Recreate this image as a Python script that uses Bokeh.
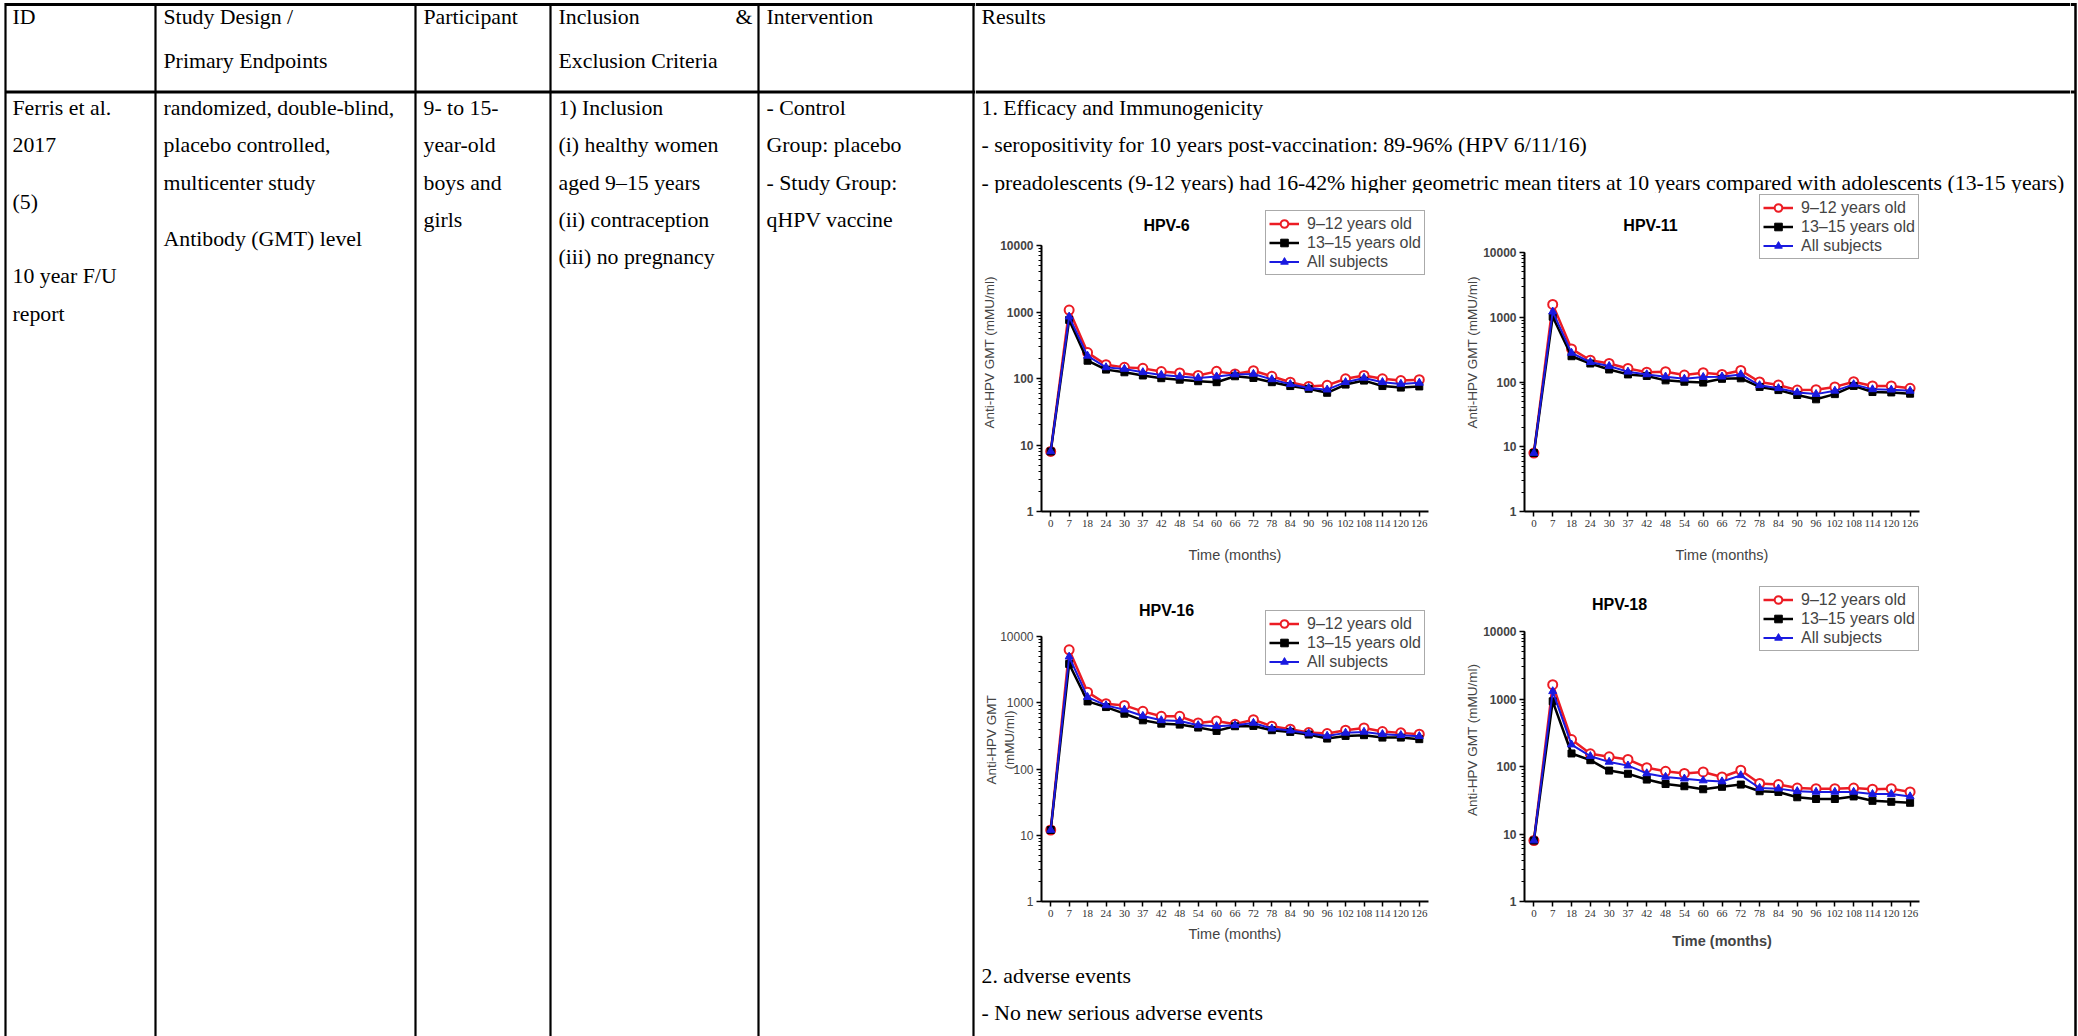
from bokeh.plotting import figure
from bokeh.layouts import row, column
from bokeh.models import Range1d, FactorRange, Legend, LegendItem, PrintfTickFormatter, Label
from bokeh.core.properties import value
from bokeh.embed import file_html
from bokeh.resources import INLINE

# ---------------- data ----------------
MONTHS = ["0", "7", "18", "24", "30", "37", "42", "48", "54", "60", "66",
          "72", "78", "84", "90", "96", "102", "108", "114", "120", "126"]
SERIES_LABELS = ["9\u201312 years old", "13\u201315 years old", "All subjects"]

HPV6_9_12 = [8, 1070, 245, 161, 147, 142, 127, 121, 111, 128, 117, 131, 108, 88, 76, 79, 99, 111, 99, 93, 96]
HPV6_13_15 = [8, 760, 185, 136, 124, 111, 101, 96, 91, 88, 108, 102, 88, 77, 70, 61, 81, 93, 77, 73, 76]
HPV6_ALL = [8, 850, 219, 147, 139, 124, 113, 107, 102, 107, 115, 117, 97, 82, 72, 68, 88, 102, 88, 83, 86]

HPV11_9_12 = [8, 1580, 324, 217, 193, 162, 142, 144, 128, 139, 131, 151, 100, 90, 75, 76, 84, 101, 87, 87, 80]
HPV11_13_15 = [8, 1020, 250, 193, 156, 131, 124, 106, 101, 98, 112, 114, 84, 75, 63, 54, 65, 87, 70, 69, 66]
HPV11_ALL = [8, 1220, 281, 202, 176, 144, 131, 121, 112, 119, 121, 131, 89, 80, 69, 65, 73, 92, 77, 76, 73]

HPV16_9_12 = [12, 6300, 1445, 966, 912, 741, 624, 624, 495, 531, 473, 556, 442, 398, 355, 343, 385, 417, 367, 351, 335]
HPV16_13_15 = [12, 3850, 1047, 861, 684, 543, 484, 468, 422, 376, 442, 447, 385, 363, 331, 288, 316, 324, 298, 298, 282]
HPV16_ALL = [12, 4950, 1216, 912, 785, 631, 543, 531, 457, 442, 457, 495, 407, 380, 343, 316, 351, 363, 335, 324, 313]

HPV18_9_12 = [8, 1630, 251, 154, 139, 127, 96, 85, 79, 83, 70, 88, 56, 54, 48, 47, 47, 48, 46, 47, 42]
HPV18_13_15 = [8, 924, 156, 124, 87, 78, 64, 55, 51, 46, 50, 54, 43, 42, 35, 33, 33, 36, 31, 30, 29]
HPV18_ALL = [8, 1300, 211, 142, 117, 103, 79, 70, 66, 62, 60, 74, 48, 47, 43, 42, 42, 42, 39, 39, 36]

# ---------------- table text ----------------
HEADERS = [["ID"], ["Study Design /", "Primary Endpoints"], ["Participant"],
           ["Inclusion", "Exclusion Criteria"], ["Intervention"], ["Results"]]
CELL_ID = [("Ferris et al.", 107), ("2017", 144), ("(5)", 201), ("10 year F/U", 275), ("report", 313)]
CELL_DESIGN = [("randomized, double-blind,", 107), ("placebo controlled,", 144),
               ("multicenter study", 182), ("Antibody (GMT) level", 238)]
CELL_PART = [("9- to 15-", 107), ("year-old", 144), ("boys and", 182), ("girls", 219)]
CELL_INCL = [("1) Inclusion", 107), ("(i) healthy women", 144), ("aged 9\u201315 years", 182),
             ("(ii) contraception", 219), ("(iii) no pregnancy", 256)]
CELL_INTV = [("- Control", 107), ("Group: placebo", 144), ("- Study Group:", 182), ("qHPV vaccine", 219)]
RESULTS_TOP = ["1. Efficacy and Immunogenicity",
               "- seropositivity for 10 years post-vaccination: 89-96% (HPV 6/11/16)",
               "- preadolescents (9-12 years) had 16-42% higher geometric mean titers at 10 years compared with adolescents (13-15 years)"]
RESULTS_TOP_Y = [107, 144, 182]
RESULTS_BOTTOM = ["2. adverse events", "- No new serious adverse events"]
RESULTS_BOTTOM_Y = [975, 1012]

SERIF = value("Liberation Serif")
TXT = "21.8px"
RED = "#ec1c24"
BLUE = "#1a1ae0"

COL_X = [5, 155, 415, 550, 758, 973]
TEXT_X = [12, 163, 423, 558, 766, 981]
HEAD_Y = [16, 60]
H_TOP = 4
H_HEAD = 91.5
RIGHT_X = 2075


def blank(x0, y0, w, h):
    p = figure(width=w, height=h, x_range=Range1d(x0, x0 + w), y_range=Range1d(y0 + h, y0),
               output_backend="svg", toolbar_location=None,
               x_axis_location=None, y_axis_location=None,
               min_border=0, min_border_left=0, min_border_right=0,
               min_border_top=0, min_border_bottom=0)
    p.grid.visible = False
    p.outline_line_color = None
    return p


def put_text(p, xs, ys, texts, align="left"):
    p.text(x=xs, y=ys, text=texts, text_font=SERIF, text_font_size=TXT,
           text_baseline="middle", text_align=align, text_color="black")


# left part of the table
left = blank(0, 0, 975, 1036)
left.segment(x0=[COL_X[0], COL_X[0]], y0=[H_TOP, H_HEAD], x1=[975, 975], y1=[H_TOP, H_HEAD],
             line_color="black", line_width=3)
left.segment(x0=COL_X, y0=[H_TOP - 1.5] * len(COL_X), x1=COL_X, y1=[1036] * len(COL_X),
             line_color="black", line_width=2.2)
hx, hy, ht = [], [], []
for i, lines in enumerate(HEADERS[:5]):
    for j, t in enumerate(lines):
        hx.append(TEXT_X[i]); hy.append(HEAD_Y[j]); ht.append(t)
put_text(left, hx, hy, ht)
put_text(left, [752], [HEAD_Y[0]], ["&"], align="right")
bx, by, bt = [], [], []
for i, cell in enumerate([CELL_ID, CELL_DESIGN, CELL_PART, CELL_INCL, CELL_INTV]):
    for t, yy in cell:
        bx.append(TEXT_X[i]); by.append(yy); bt.append(t)
put_text(left, bx, by, bt)

# top of results column
top = blank(975, 0, 1095, 193)
top.segment(x0=[975, 975], y0=[H_TOP, H_HEAD], x1=[2070, 2070], y1=[H_TOP, H_HEAD],
            line_color="black", line_width=3)
put_text(top, [TEXT_X[5]], [HEAD_Y[0]], HEADERS[5])
put_text(top, [TEXT_X[5]] * 3, RESULTS_TOP_Y, RESULTS_TOP)

# bottom of results column
bottom = blank(975, 955, 1095, 81)
put_text(bottom, [TEXT_X[5]] * 2, RESULTS_BOTTOM_Y, RESULTS_BOTTOM)

# right border strip
border = blank(2070, 0, 8, 1036)
border.segment(x0=[2070, 2070], y0=[H_TOP, H_HEAD], x1=[RIGHT_X, RIGHT_X], y1=[H_TOP, H_HEAD],
               line_color="black", line_width=3)
border.segment(x0=[RIGHT_X], y0=[H_TOP - 1.5], x1=[RIGHT_X], y1=[1036], line_color="black", line_width=2.5)

LEG_W = 158
LEG_H = 63


def chart(name, box, frame, ylabel, reds, blacks, blues, leg_right_top, title_xy,
          bold_y=True, bold_time=False, ylabel_standoff=0, time_standoff=6):
    bx0, by0, bx1, by1 = box
    fl, p10k, fr, fb = frame
    # frame spans from the top of the box; axis itself is bounded to 1..10000
    ymax = 10 ** (4.0 * (fb - by0) / (fb - p10k))
    p = figure(width=bx1 - bx0, height=by1 - by0,
               x_range=FactorRange(factors=MONTHS), y_range=Range1d(1, ymax),
               y_axis_type="log", output_backend="svg", toolbar_location=None,
               min_border_left=fl - bx0, min_border_right=bx1 - fr,
               min_border_top=0, min_border_bottom=by1 - fb)
    p.grid.visible = False
    p.outline_line_color = None

    r1 = p.line(MONTHS, reds, line_color=RED, line_width=2.5)
    s1 = p.scatter(MONTHS, reds, marker="circle", size=9, line_color=RED, fill_color="white", line_width=2)
    r2 = p.line(MONTHS, blacks, line_color="black", line_width=2.5)
    s2 = p.scatter(MONTHS, blacks, marker="square", size=7, color="black")
    r3 = p.line(MONTHS, blues, line_color=BLUE, line_width=2)
    s3 = p.scatter(MONTHS, blues, marker="triangle", size=8, color=BLUE)

    lr, lt = leg_right_top
    leg = Legend(items=[LegendItem(label=SERIES_LABELS[0], renderers=[r1, s1]),
                        LegendItem(label=SERIES_LABELS[1], renderers=[r2, s2]),
                        LegendItem(label=SERIES_LABELS[2], renderers=[r3, s3])],
                 location=(lr - LEG_W - fl, fb - (lt + LEG_H)), margin=0, padding=3, spacing=0,
                 glyph_width=30, glyph_height=19, label_height=19, label_standoff=8,
                 label_text_font="Liberation Sans", label_text_font_size="16px",
                 border_line_color="#555555", border_line_width=1.5,
                 background_fill_color="white", background_fill_alpha=1.0)
    p.add_layout(leg)

    tx, ty = title_xy
    p.add_layout(Label(x=tx - fl, y=fb - ty, x_units="screen", y_units="screen", text=name,
                       text_align="center", text_baseline="middle", text_font="Liberation Sans",
                       text_font_size="16px", text_font_style="bold", text_color="black"))

    xa = p.xaxis[0]
    xa.axis_line_width = 2
    xa.major_tick_out = 5
    xa.major_tick_in = 0
    xa.major_tick_line_width = 1.5
    xa.major_label_text_font = "Liberation Sans Narrow"
    xa.major_label_text_font_size = "11px"
    xa.major_label_text_color = "#333333"
    xa.major_label_standoff = 3
    xa.axis_label = "Time (months)"
    xa.axis_label_text_font = "Liberation Sans"
    xa.axis_label_text_font_size = "14.5px"
    xa.axis_label_text_font_style = "bold" if bold_time else "normal"
    xa.axis_label_standoff = time_standoff

    ya = p.yaxis[0]
    ya.bounds = (1, 10000)
    ya.formatter = PrintfTickFormatter(format="%d")
    ya.axis_line_width = 2
    ya.major_tick_out = 5
    ya.major_tick_in = 0
    ya.major_tick_line_width = 1.5
    ya.minor_tick_out = 3
    ya.minor_tick_in = 0
    ya.major_label_text_font = "Liberation Sans"
    ya.major_label_text_font_size = "12px"
    ya.major_label_text_font_style = "bold" if bold_y else "normal"
    ya.major_label_standoff = 3
    ya.axis_label = ylabel
    ya.axis_label_text_font = "Liberation Sans"
    ya.axis_label_text_font_size = "13.5px"
    ya.axis_label_text_font_style = "normal"
    ya.axis_label_standoff = ylabel_standoff
    return p


YLAB = "Anti-HPV GMT (mMU/ml)"
A = chart("HPV-6", (975, 193, 1450, 578), (1041, 245, 1428, 511), YLAB,
          HPV6_9_12, HPV6_13_15, HPV6_ALL, (1423, 212), (1166, 225), time_standoff=17)
B = chart("HPV-11", (1450, 193, 2070, 578), (1524, 252, 1919, 511), YLAB,
          HPV11_9_12, HPV11_13_15, HPV11_ALL, (1917, 196), (1650, 225), time_standoff=17)
C = chart("HPV-16", (975, 578, 1450, 955), (1041, 636, 1428, 901), "Anti-HPV GMT\n(mMU/ml)",
          HPV16_9_12, HPV16_13_15, HPV16_ALL, (1423, 612), (1166, 610), bold_y=False,
          ylabel_standoff=-20, time_standoff=6)
D = chart("HPV-18", (1450, 578, 2070, 955), (1524, 631, 1919, 901), YLAB,
          HPV18_9_12, HPV18_13_15, HPV18_ALL, (1917, 588), (1619, 604), bold_time=True,
          time_standoff=13)

layout = row(left, column(top, row(A, B), row(C, D), bottom), border)

with open("out.html", "w") as f:
    f.write(file_html(layout, INLINE))
